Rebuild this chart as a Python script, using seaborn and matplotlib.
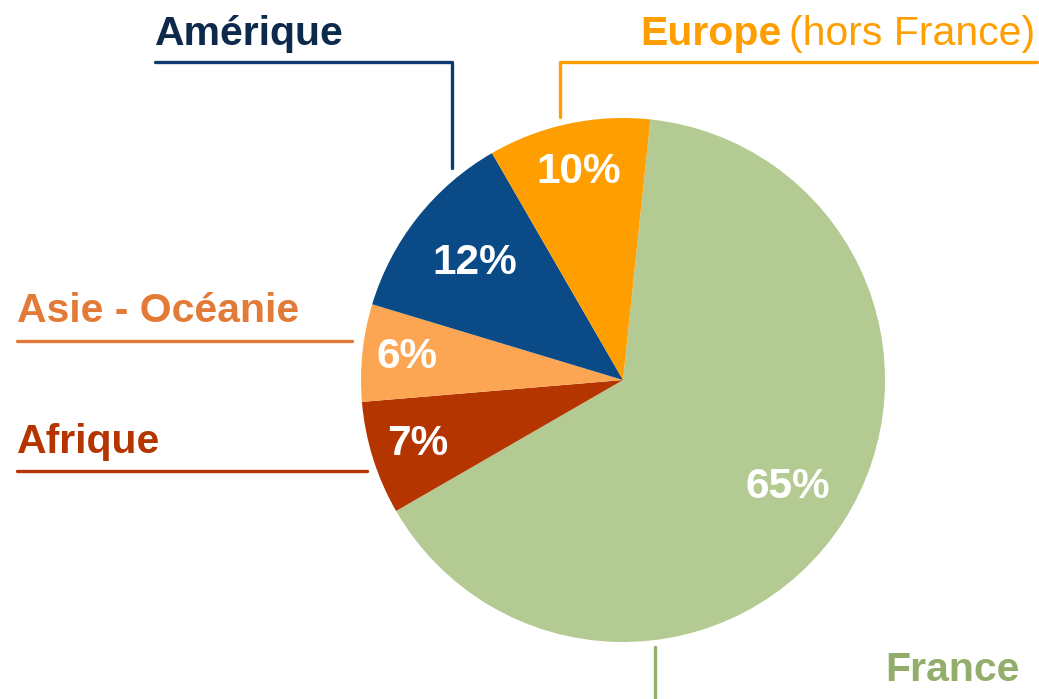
import matplotlib
matplotlib.use("Agg")
import matplotlib.pyplot as plt
import seaborn as sns
import numpy as np

# Data
regions = ["France", "Afrique", "Asie - Océanie", "Amérique", "Europe"]
shares = [65, 7, 6, 12, 10]
slice_colors = ["#B4CA93", "#B43500", "#FCA653", "#0A4A86", "#FF9E00"]
label_colors = ["#93AD6B", "#B43500", "#E27B38", "#0D2A4C", "#FF9E00"]
line_colors = ["#93AD6B", "#B43500", "#E27B38", "#0D3B6E", "#FF9E00"]
pct_dist = [0.75, 0.82, 0.83, 0.72, 0.81]

sns.set_theme(style="white")
plt.rcParams['font.family'] = ['Liberation Sans', 'DejaVu Sans']

W, H = 1039, 699
fig = plt.figure(figsize=(W / 100, H / 100), dpi=100)
ax = fig.add_axes([0, 0, 1, 1])
ax.set_aspect("equal")

cx, cy, R = 623, H - 380, 262
wedges, _ = ax.pie(shares, colors=slice_colors, startangle=84, counterclock=False,
                   center=(cx, cy), radius=R, frame=True,
                   wedgeprops=dict(linewidth=0))
ax.set_xlim(0, W)
ax.set_ylim(0, H)
ax.axis("off")

# percentages inside the slices
for w, s, d in zip(wedges, shares, pct_dist):
    ang = np.deg2rad((w.theta1 + w.theta2) / 2)
    ax.text(cx + d * R * np.cos(ang), cy + d * R * np.sin(ang), f"{s}%",
            color="white", fontsize=30.5, fontweight="bold", ha="center", va="center")

def y(py):
    return H - py

fs = 29.5
lw = 2.4
# Amérique
ax.text(155, y(45), "Amérique", color=label_colors[3], fontsize=fs, fontweight="bold",
        ha="left", va="baseline")
ax.plot([155, 452, 452], [y(62), y(62), y(168)], color=line_colors[3], lw=lw)
# Europe
ax.text(640, y(45), "Europe", color=label_colors[4], fontsize=fs, fontweight="bold",
        ha="left", va="baseline")
ax.text(1035, y(45), "(hors France)", color=label_colors[4], fontsize=fs,
        ha="right", va="baseline")
ax.plot([1037, 560, 560], [y(62), y(62), y(117)], color=line_colors[4], lw=lw)
# Asie - Océanie
ax.text(17, y(322), "Asie - Océanie", color=label_colors[2], fontsize=fs, fontweight="bold",
        ha="left", va="baseline")
ax.plot([17, 352], [y(341), y(341)], color=line_colors[2], lw=lw)
# Afrique
ax.text(17, y(453), "Afrique", color=label_colors[1], fontsize=fs, fontweight="bold",
        ha="left", va="baseline")
ax.plot([17, 367], [y(471), y(471)], color=line_colors[1], lw=lw)
# France
ax.text(885, y(681), "France", color=label_colors[0], fontsize=fs, fontweight="bold",
        ha="left", va="baseline")
ax.plot([655, 655], [y(647), y(699)], color=line_colors[0], lw=lw)

fig.savefig("out.png", dpi=100)
